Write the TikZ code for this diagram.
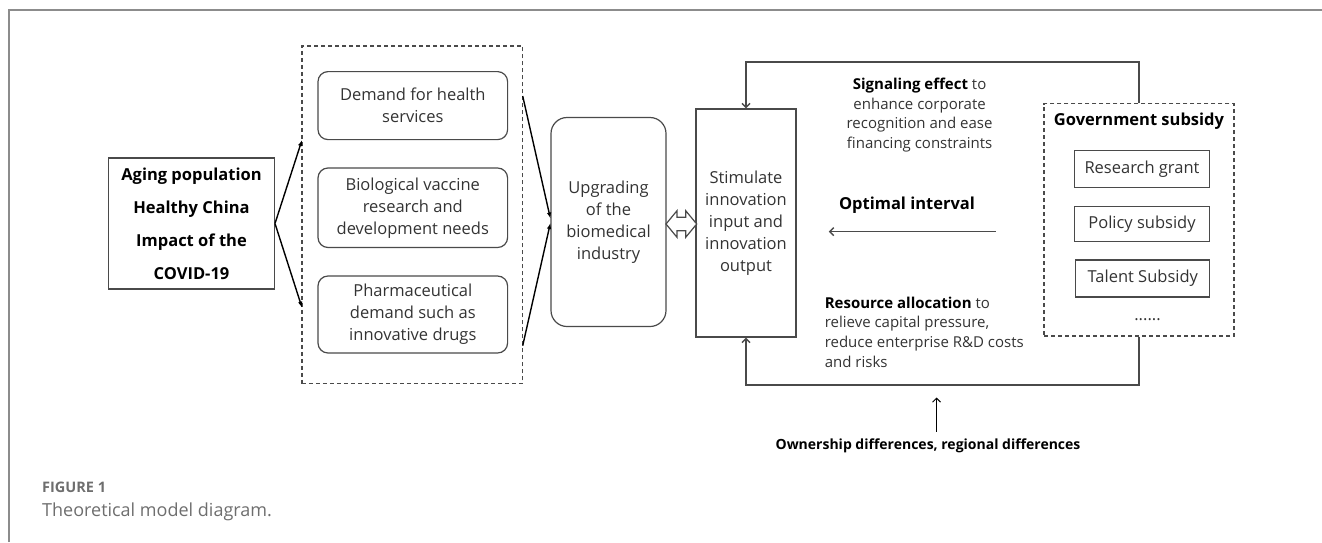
\documentclass[tikz,border=0pt]{standalone}
\usepackage{fontspec}
\setmainfont{Open Sans}
\usetikzlibrary{arrows.meta}
\definecolor{framegray}{HTML}{8C8C8C}
\definecolor{linegray}{HTML}{4A4A4A}
\definecolor{textgray}{HTML}{333333}
\definecolor{capgray}{HTML}{6E6E6E}
\newcommand{\boxfont}{\fontsize{16.5}{22}\selectfont}
\newcommand{\notefont}{\fontsize{15}{19.7}\selectfont}

\begin{document}
\begin{tikzpicture}[x=1pt,y=-1pt,
  box/.style={draw=linegray, line width=1.2pt, inner sep=0pt, align=center,
              text=textgray, font=\boxfont},
  rbox/.style={box, rounded corners=10pt},
  dashbox/.style={draw=linegray, line width=1.2pt, dash pattern=on 4pt off 3pt, inner sep=0pt},
  flow/.style={line width=1.4pt, black, -{Latex[length=6pt,width=4.5pt]}},
  fback/.style={draw=linegray, line width=1.4pt, -{Straight Barb[length=4pt,width=8pt]}},
  pointer/.style={draw=black, line width=1pt, -{Straight Barb[length=4pt,width=8pt]}},
  boldlabel/.style={font=\fontsize{16.5}{22}\selectfont\bfseries, text=black},
  note/.style={font=\notefont, text=textgray},
]
\useasboundingbox (0,0) rectangle (1322,542);

% page frame (top and left edges)
\draw[framegray, line width=2pt] (9,542) -- (9,10) -- (1322,10);

% drivers
\node[box, font=\fontsize{16.5}{33}\selectfont\bfseries, text=black,
      minimum width=165.8pt, minimum height=131pt] (aging) at (191.5,223.5)
      {Aging population\\Healthy China\\Impact of the\\COVID-19};

% demand group
\node[dashbox, minimum width=220.7pt, minimum height=337.7pt] (dem) at (412.3,214.85) {};
\node[rbox, minimum width=189.6pt, minimum height=68pt] (health) at (412.8,105.6)
      {Demand for health\\services};
\node[rbox, minimum width=189.6pt, minimum height=79.5pt] (vaccine) at (412.8,207.75)
      {Biological vaccine\\research and\\development needs};
\node[rbox, minimum width=189.6pt, minimum height=77pt] (drugs) at (412.8,314.5)
      {Pharmaceutical\\demand such as\\innovative drugs};

% industry and innovation
\node[rbox, rounded corners=16pt, minimum width=115pt, minimum height=209pt] (upg) at (608.5,222)
      {Upgrading\\of the\\biomedical\\industry};
\node[box, minimum width=100pt, minimum height=228pt] (stim) at (746,223)
      {Stimulate\\innovation\\input and\\innovation\\output};

% government subsidy group
\node[dashbox, minimum width=190pt, minimum height=232.3pt] (gov) at (1139,219.85) {};
\node[boldlabel] (govt) at (1139,121) {Government subsidy};
\node[box, minimum width=135pt, minimum height=37pt] (grant) at (1142,169) {Research grant};
\node[box, minimum width=135pt, minimum height=35pt] (policy) at (1142,224) {Policy subsidy};
\node[box, minimum width=134pt, minimum height=37pt] (talent) at (1142.8,278.5) {Talent Subsidy};
\node[anchor=base, font=\boxfont, text=textgray] (more) at (1147.5,320) {......};

% mechanism notes
\node[note, align=center] (signal) at (919.6,115)
      {\textbf{\color{black}Signaling effect} to\\enhance corporate\\recognition and ease\\financing constraints};
\node[boldlabel] (opt) at (907,205) {Optimal interval};
\node[note, align=left, anchor=west, inner sep=0pt] (res) at (824.6,332)
      {\textbf{\color{black}Resource allocation} to\\relieve capital pressure,\\reduce enterprise R\&D costs\\and risks};
\node[font=\fontsize{14}{18}\selectfont\bfseries, text=black] (own) at (928,446)
      {Ownership differences, regional differences};

% caption
\node[anchor=base west, inner sep=0pt, font=\fontsize{14.5}{18}\selectfont\bfseries, text=capgray]
      (fig) at (42,492) {FIGURE 1};
\node[anchor=base west, inner sep=0pt, font=\fontsize{18}{22}\selectfont, text=capgray]
      (cap) at (42,516) {Theoretical model diagram.};

% connectors
\coordinate (a1) at (302,140);
\coordinate (a2) at (302,307.6);
\draw[flow] (aging.east) -- (a1);
\draw[flow] (aging.east) -- (a2);

\coordinate (b1) at (522.7,96);
\coordinate (b2) at (522.7,345.7);
\draw[flow] (b1) -- ([yshift=3.5pt]upg.west);
\draw[flow] (b2) -- ([yshift=-1pt]upg.west);

% hollow two-way arrow between industry and innovation
\coordinate (dc) at (681.35,224);
\draw[linegray, line width=1.2pt, fill=white, line join=miter, shift={(dc)}]
  (-15.35,0) -- (-4.35,-13.3) -- (-4.35,-6.8) -- (4.35,-6.8) -- (4.35,-13.3) -- (15.35,0)
  -- (4.35,13.3) -- (4.35,6.8) -- (-4.35,6.8) -- (-4.35,13.3) -- cycle;

% feedback loops from the subsidy group
\draw[fback] (gov.north) -- ++(0,-41) -| (stim.north);
\draw[fback] (gov.south) -- ++(0,48.4) -| (stim.south);

\coordinate (optS) at (995.6,231.6);
\coordinate (optE) at (828.8,231.6);
\draw[fback] (optS) -- (optE);

\coordinate (ownTip) at (936.5,397.5);
\draw[pointer, shorten <=3.5pt] (own.north -| ownTip) -- (ownTip);
\end{tikzpicture}
\end{document}
